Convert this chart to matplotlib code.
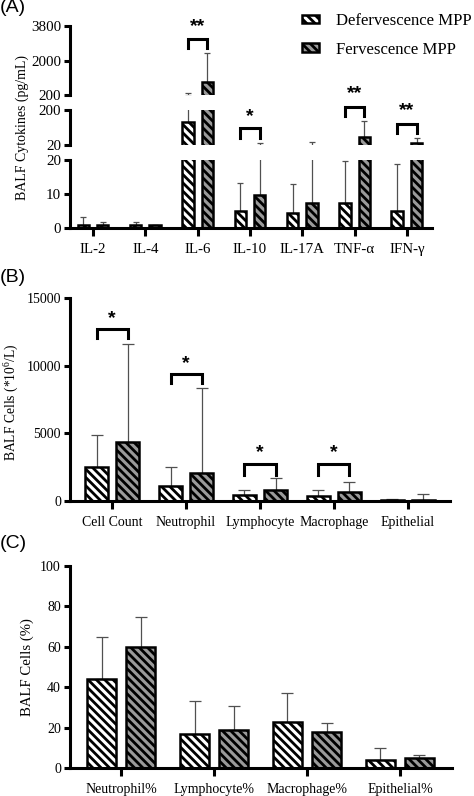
import numpy as np
import matplotlib
matplotlib.use("Agg")
import matplotlib.pyplot as plt
from matplotlib.patches import Patch

plt.rcParams['font.family'] = ['Liberation Serif', 'DejaVu Serif']
plt.rcParams['mathtext.default'] = 'regular'
plt.rcParams['hatch.linewidth'] = 2.0

# -----------------------------
# Data
# -----------------------------
cyto_names = ['IL-2', 'IL-4', 'IL-6', 'IL-10', 'IL-17A', 'TNF-α', 'IFN-γ']
cyto_def = [1.0, 1.0, 140, 5.0, 4.5, 7.3, 5.1]
cyto_def_top = [3.1, 1.9, 320, 13.1, 12.9, 19.7, 18.8]
cyto_fev = [1.0, 0.9, 860, 9.7, 7.4, 62, 32]
cyto_fev_top = [1.9, 1.0, 2380, 32, 35, 145, 58]

cell_names = ['Cell Count', 'Neutrophil', 'Lymphocyte', 'Macrophage', 'Epithelial']
cell_def = [2500, 1100, 440, 400, 80]
cell_def_top = [4880, 2520, 810, 800, 150]
cell_fev = [4370, 2070, 800, 670, 70]
cell_fev_top = [11630, 8370, 1700, 1420, 520]

pct_names = ['Neutrophil%', 'Lymphocyte%', 'Macrophage%', 'Epithelial%']
pct_def = [44, 17, 23, 4]
pct_def_top = [65, 33, 37, 9.8]
pct_fev = [60, 19, 18, 5]
pct_fev_top = [75, 30.5, 22.3, 6.4]

GRAY = '#9a9a9a'
ERR = '#505050'
HATCH = '\\\\\\\\'


def bar_pairs(ax, names, d, dtop, f, ftop, width, off, cap, ymin=None):
    x = np.arange(len(names))
    for xs, v, t in [(x - off, d, dtop), (x + off, f, ftop)]:
        v = np.array(v, float)
        t = np.array(t, float)
        keep = np.ones(len(v), bool) if ymin is None else t > ymin
        ax.errorbar(xs[keep], v[keep], yerr=[np.zeros(keep.sum()), (t - v)[keep]], fmt='none',
                    ecolor=ERR, elinewidth=0.9, capsize=cap, capthick=0.9, zorder=1)
    ax.bar(x - off, d, width, color='white', edgecolor='black', hatch=HATCH, lw=1.8, zorder=2)
    ax.bar(x + off, f, width, color=GRAY, edgecolor='black', hatch=HATCH, lw=1.8, zorder=2)
    return x


def style(ax, fs, bottom=True):
    for s in ['top', 'right']:
        ax.spines[s].set_visible(False)
    ax.spines['left'].set_linewidth(2.2)
    ax.spines['bottom'].set_linewidth(2.2)
    ax.tick_params(axis='both', width=2.2, length=4.5, labelsize=fs, pad=2)
    ax.tick_params(axis='x', length=6, pad=4.5)
    if not bottom:
        ax.spines['bottom'].set_visible(False)
        ax.tick_params(axis='x', bottom=False, labelbottom=False)


def bracket(ax, x, off, top, leg, star, star_y):
    ax.plot([x - off, x - off, x + off, x + off], [leg, top, top, leg], color='black',
            lw=2.2, clip_on=False, solid_joinstyle='miter', zorder=3)
    ax.text(x, star_y, star, ha='center', va='center', fontsize=14, fontweight='bold',
            family='Liberation Sans', clip_on=False, zorder=4)


fig = plt.figure(figsize=(4.74, 7.96), dpi=100)
H = 796.0
W = 474.0


def add_ax(left, right, top, bottom):
    return fig.add_axes([left / W, 1 - bottom / H, (right - left) / W, (bottom - top) / H])


# -----------------------------
# (A) broken-axis cytokines
# -----------------------------
axA0 = add_ax(70, 432, 160, 228)
axA1 = add_ax(70, 432, 110, 145)
axA2 = add_ax(70, 432, 26, 95)
wA, offA = 0.22, 0.185
limsA = [(0, 20), (20, 200), (200, 3800)]
for ax, lim in zip((axA0, axA1, axA2), limsA):
    ax.patch.set_visible(False)
    xA = bar_pairs(ax, cyto_names, cyto_def, cyto_def_top, cyto_fev, cyto_fev_top,
                   wA, offA, 2, ymin=lim[0] if lim[0] > 0 else None)
    ax.set_xlim(-0.44, 6.48)
    ax.set_ylim(*lim)
axA0.set_yticks([0, 10, 20])
axA1.set_yticks([20, 200])
axA2.set_yticks([200, 2000, 3800])
style(axA0, 10.8)
style(axA1, 10.8, bottom=False)
style(axA2, 10.8, bottom=False)
axA0.set_xticks(xA)
axA0.set_xticklabels(cyto_names)

# brackets for panel A
bracket(axA2, 2, offA, 3120, 2650, '**', 3780)
bracket(axA1, 3, offA, 106, 57, '*', 165)
bracket(axA1, 5, offA, 217, 169, '**', 285)
bracket(axA1, 6, offA, 128, 83, '**', 196)

fig.text(22 / W, 1 - 127 / H, 'BALF Cytokines (pg/mL)', rotation=90, ha='center',
         va='center', fontsize=10)

handles = [Patch(facecolor='white', edgecolor='black', hatch=HATCH, lw=1.8),
           Patch(facecolor=GRAY, edgecolor='black', hatch=HATCH, lw=1.8)]
fig.legend(handles, ['Defervescence MPP', 'Fervescence MPP'], loc='upper left',
           bbox_to_anchor=(302 / W, 1 - 13 / H), frameon=False, fontsize=12.1,
           handlelength=1.0, handleheight=0.4, handletextpad=1.0, labelspacing=0.75,
           borderpad=0, borderaxespad=0)

# -----------------------------
# (B) cell counts
# -----------------------------
axB = add_ax(70, 450, 298, 501)
wB, offB = 0.32, 0.21
xB = bar_pairs(axB, cell_names, cell_def, cell_def_top, cell_fev, cell_fev_top, wB, offB, 4.3)
axB.set_xlim(-0.57, 4.57)
axB.set_ylim(0, 15000)
axB.set_yticks([0, 5000, 10000, 15000])
axB.set_xticks(xB)
axB.set_xticklabels(cell_names)
style(axB, 10)
bracket(axB, 0, offB, 12740, 12050, '*', 13500)
bracket(axB, 1, offB, 9410, 8720, '*', 10170)
bracket(axB, 2, offB, 2740, 1950, '*', 3550)
bracket(axB, 3, offB, 2740, 1950, '*', 3550)
fig.text(12 / W, 1 - 402 / H, r'BALF Cells (*10$^{6}$/L)', rotation=90, ha='center',
         va='center', fontsize=9.8)

# -----------------------------
# (C) cell percentages
# -----------------------------
axC = add_ax(70, 452, 566, 768)
wC, offC = 0.31, 0.21
xC = bar_pairs(axC, pct_names, pct_def, pct_def_top, pct_fev, pct_fev_top, wC, offC, 4.3)
axC.set_xlim(-0.55, 3.56)
axC.set_ylim(0, 100)
axC.set_yticks([0, 20, 40, 60, 80, 100])
axC.set_xticks(xC)
axC.set_xticklabels(pct_names)
style(axC, 10)
fig.text(27 / W, 1 - 667 / H, 'BALF Cells (%)', rotation=90, ha='center',
         va='center', fontsize=10.6)

# panel letters
for lab, yy in [('(A)', 8), ('(B)', 277), ('(C)', 543)]:
    fig.text(0, 1 - yy / H, lab, ha='left', va='center', fontsize=14, family='Liberation Sans')

fig.savefig('out.png', dpi=100)
